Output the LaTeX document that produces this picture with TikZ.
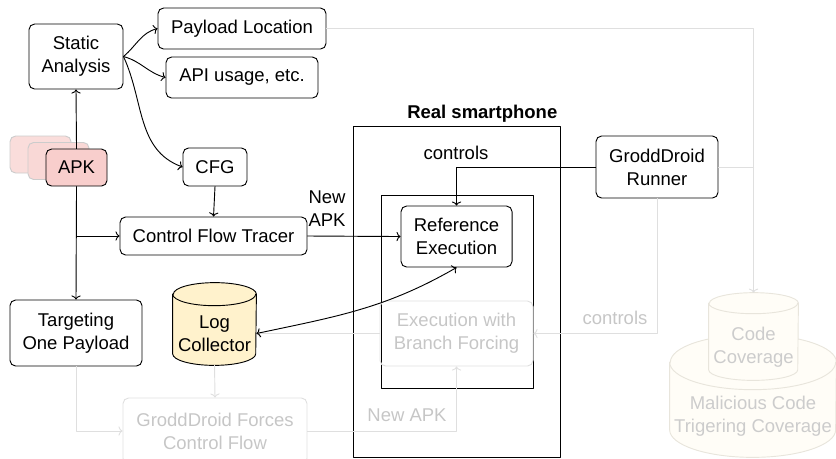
\documentclass[tikz,border=0pt]{standalone}
\usepackage{fontspec}
\setmainfont{Liberation Sans}
\usetikzlibrary{arrows.meta}

\definecolor{apkred}{RGB}{248,206,204}
\definecolor{logyellow}{RGB}{255,242,204}
\definecolor{pale}{RGB}{255,253,247}
\definecolor{paleline}{RGB}{232,229,220}

% can drawn around an empty node: #1 node, #2 x radius, #3 y radius, #4 path options
\newcommand{\drum}[4]{%
  \path[#4] ([yshift=-#3]#1.north west) -- ([yshift=#3]#1.south west)
    arc[start angle=180,end angle=360,x radius=#2,y radius=#3]
    -- ([yshift=-#3]#1.north east)
    arc[start angle=0,end angle=180,x radius=#2,y radius=#3] -- cycle;
  \path[#4,fill=none] ([yshift=-#3]#1.north west)
    arc[start angle=180,end angle=360,x radius=#2,y radius=#3];
}

\tikzset{
  box/.style={draw,rounded corners=3pt,align=center,inner sep=0pt,line width=0.5pt},
  faded/.style={draw=gray!25,text=gray!45},
  fadedline/.style={gray!25,line width=0.5pt},
  spot/.style={inner sep=0pt},
  lbl/.style={align=center,inner sep=0pt}
}

\begin{document}
\begin{tikzpicture}[x=1cm,y=1cm,>={To[length=2.2pt,width=5pt]},line cap=round,line join=round,font=\fontsize{10}{12.4}\selectfont]
\useasboundingbox (0,0) rectangle (15.884,-8.702);

% the phone and its inner screen
\node[draw,line width=0.5pt,minimum width=3.933cm,minimum height=6.289cm] (phone) at (8.674,-5.539) {};
\node[draw,line width=0.5pt,minimum width=2.888cm,minimum height=3.667cm] (dev) at (8.683,-5.539) {};
\node[anchor=south east,inner sep=1.5pt,font=\fontsize{10}{12}\selectfont\bfseries] (phonetitle) at (phone.north east) {Real smartphone};

% apk stack
\node[box,draw=gray!40,fill=apkred!70,minimum width=1.159cm,minimum height=0.703cm] (apkc) at (0.770,-2.936) {};
\node[box,draw=gray!40,fill=apkred!80,minimum width=1.159cm,minimum height=0.703cm] (apkb) at (1.112,-3.059) {};
\node[box,fill=apkred,minimum width=1.159cm,minimum height=0.703cm] (apk) at (1.454,-3.183) {APK};

% black part
\node[box,minimum width=1.786cm,minimum height=1.235cm] (sa) at (1.444,-1.074) {Static\\Analysis};
\node[box,minimum width=3.192cm,minimum height=0.779cm] (pl) at (4.598,-0.542) {Payload Location};
\node[box,minimum width=2.888cm,minimum height=0.779cm] (api) at (4.598,-1.473) {API usage, etc.};
\node[box,minimum width=1.216cm,minimum height=0.722cm] (cfg) at (4.085,-3.173) {CFG};
\node[box,minimum width=3.553cm,minimum height=0.722cm] (cft) at (4.057,-4.484) {Control Flow Tracer};
\node[box,minimum width=2.508cm,minimum height=1.254cm] (tgt) at (1.444,-6.327) {Targeting\\One Payload};
\node[box,minimum width=2.109cm,minimum height=1.159cm] (ref) at (8.674,-4.494) {Reference\\Execution};
\node[box,minimum width=2.318cm,minimum height=1.178cm] (runner) at (12.483,-3.173) {GroddDroid\\Runner};

\node[spot,minimum width=1.577cm,minimum height=1.558cm] (log) at (4.076,-6.156) {};
\drum{log}{0.789cm}{0.219cm}{draw,fill=logyellow,line width=0.5pt}
\node[lbl] (logtext) at ([yshift=-0.18cm]log.center) {Log\\Collector};

% faded part
\node[box,faded,minimum width=2.907cm,minimum height=1.235cm] (ebf) at (8.674,-6.337) {Execution with\\Branch Forcing};
\node[box,faded,minimum width=3.496cm,minimum height=1.254cm] (gfc) at (4.085,-8.189) {GroddDroid Forces\\Control Flow};

\node[spot,minimum width=3.154cm,minimum height=2.318cm] (mct) at (14.307,-7.524) {};
\drum{mct}{1.577cm}{0.523cm}{draw=paleline,fill=pale,line width=0.5pt}
\node[lbl,text=gray!40] (mcttext) at (14.307,-7.905) {Malicious Code\\Trigering Coverage};
\node[spot,minimum width=1.691cm,minimum height=1.653cm] (cc) at (14.317,-6.394) {};
\drum{cc}{0.846cm}{0.2cm}{draw=paleline,fill=pale,line width=0.5pt}
\node[lbl,text=gray!40] (cctext) at ([yshift=-0.2cm]cc.center) {Code\\Coverage};

\coordinate (login) at (log.east |- ebf.west);

\draw[->,fadedline] (pl.east) -| (cc.north);
\draw[fadedline] (runner.east) -- (cc.north |- runner.east);
\draw[->,fadedline] (runner.south) |- (ebf.east);
\draw[->,fadedline] (tgt.south) |- (gfc.west);
\draw[->,fadedline] (log.south) -- (gfc.north);
\draw[->,fadedline] (gfc.east) -| (ebf.south);
\draw[->,fadedline] (ebf.west) -- (login);
\node[lbl,text=gray!45] (ctl2) at (11.685,-6.042) {controls};
\node[lbl,text=gray!45] (newapk2) at (7.733,-7.885) {New APK};

\draw[->,line width=0.5pt] (apk.north) -- (sa.south);
\draw[->,line width=0.5pt] (sa.east) to[out=40,in=195] (pl.west);
\draw[->,line width=0.5pt] (sa.east) to[out=-15,in=165] (api.west);
\draw[->,line width=0.5pt] (sa.east) to[out=-65,in=160] (cfg.west);
\draw[->,line width=0.5pt] (cfg.south) -- (cft.north);
\draw[->,line width=0.5pt] (apk.south) -- (tgt.north);
\draw[->,line width=0.5pt] (apk.south |- cft.west) -- (cft.west);
\draw[->,line width=0.5pt] (cft.east) -- (ref.west);
\draw[->,line width=0.5pt] (runner.west) -| (ref.north);
\draw[<->,line width=0.5pt] (login) to[out=12,in=-150] (ref.south);
\node[lbl] (ctl) at (8.664,-2.907) {controls};
\node[lbl,align=left] (newapk) at (6.213,-3.971) {New\\APK};
\end{tikzpicture}
\end{document}
